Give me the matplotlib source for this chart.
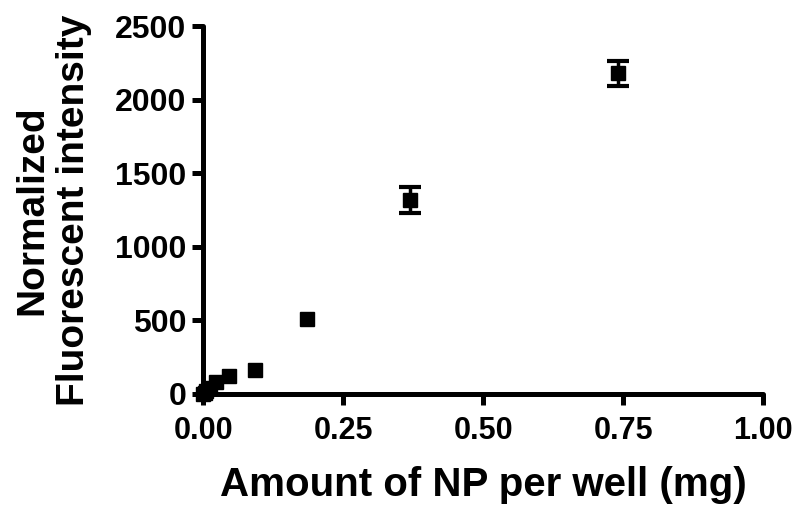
import matplotlib
matplotlib.use("Agg")
import matplotlib.pyplot as plt

# amount of NP per well (mg), two-fold dilution series
amount_mg = [0.0, 0.0029, 0.0058, 0.0116, 0.023, 0.046, 0.0925, 0.185, 0.37, 0.74]
intensity = [0, 10, 22, 42, 84, 122, 163, 510, 1320, 2180]
intensity_err = [0, 0, 0, 0, 0, 0, 0, 0, 90, 85]

x_ticks = [0.00, 0.25, 0.50, 0.75, 1.00]
y_ticks = [0, 500, 1000, 1500, 2000, 2500]

plt.rcParams['font.family'] = ['Liberation Sans', 'DejaVu Sans']
plt.rcParams['font.weight'] = 'bold'

fig = plt.figure(figsize=(8, 5.13), dpi=100)
ax = fig.add_axes([0.254, 0.232, 0.700, 0.717])

# markers for every point, error bars only where there is a spread
ax.plot(amount_mg, intensity, 's', color='black', markersize=10, clip_on=False, zorder=3)
with_err = [i for i, e in enumerate(intensity_err) if e > 0]
ax.errorbar([amount_mg[i] for i in with_err], [intensity[i] for i in with_err],
            yerr=[intensity_err[i] for i in with_err], fmt='none', ecolor='black',
            elinewidth=2.5, capsize=8, capthick=3, clip_on=False, zorder=3)

ax.set_xlim(0, 1.0)
ax.set_ylim(0, 2500)
ax.set_xticks(x_ticks)
ax.set_xticklabels([f"{t:.2f}" for t in x_ticks])
ax.set_yticks(y_ticks)

for side in ['top', 'right']:
    ax.spines[side].set_visible(False)
for side in ['left', 'bottom']:
    ax.spines[side].set_linewidth(3.6)
    ax.spines[side].set_capstyle('round')

ax.tick_params(direction='out', length=8, width=3.6, labelsize=23)
ax.tick_params(axis='x', labelsize=22, pad=8)
ax.tick_params(axis='y', pad=4)
for lbl in ax.get_xticklabels() + ax.get_yticklabels():
    lbl.set_fontweight('bold')

ax.set_xlabel("Amount of NP per well (mg)", fontsize=29, fontweight='bold', labelpad=14)
ax.set_ylabel("Normalized\nFluorescent intensity", fontsize=28, fontweight='bold',
              labelpad=17, linespacing=1.2)

fig.savefig("out.png", dpi=100)
